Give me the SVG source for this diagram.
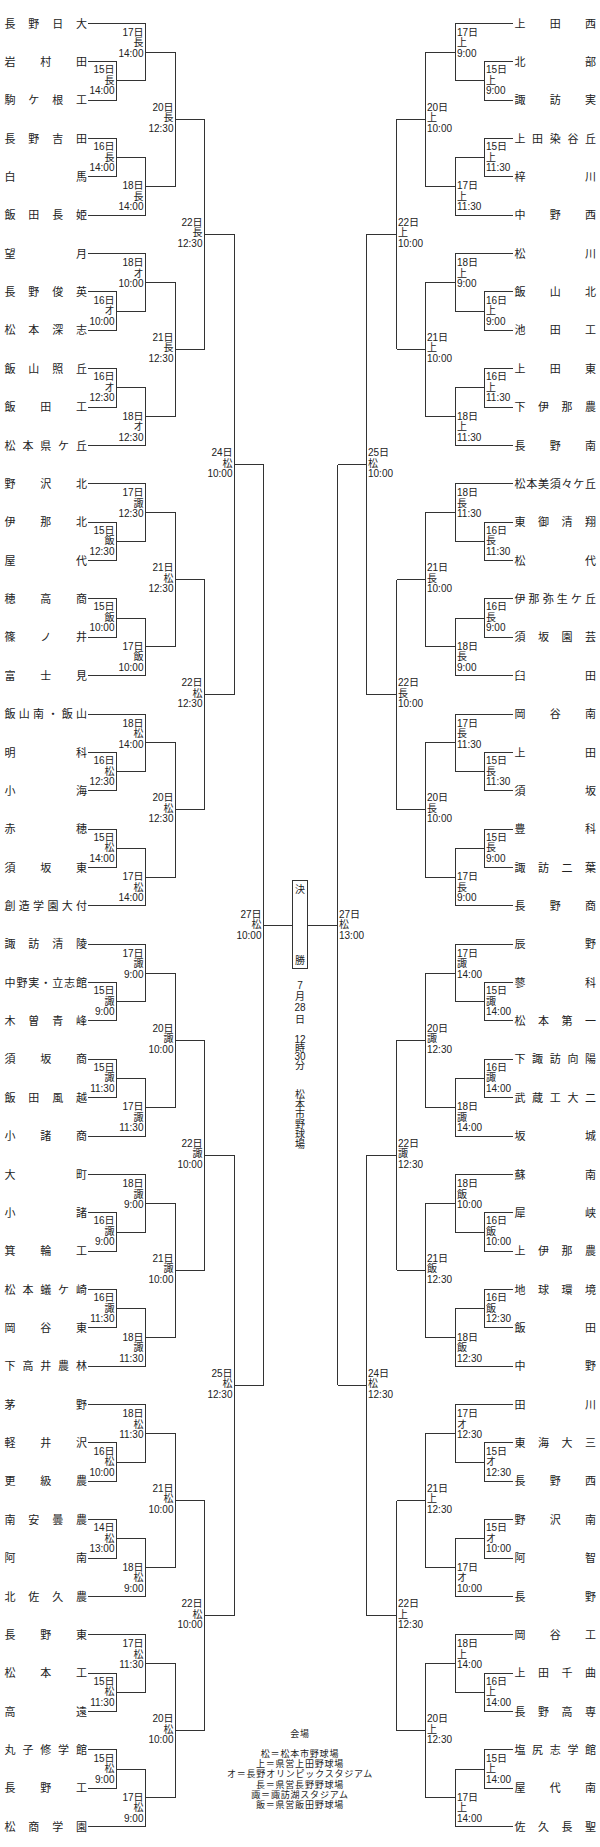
<svg xmlns="http://www.w3.org/2000/svg" width="600" height="1847" viewBox="0 0 600 1847">
<style>
.tn{font-family:"Noto Sans CJK JP",sans-serif;font-size:11px;fill:#222}
.lb{font-family:"Liberation Sans","Noto Sans CJK JP",sans-serif;font-size:10px;fill:#222}
.le{text-anchor:end}
.cn{fill:none;stroke:#333;stroke-width:1}
.ct{font-family:"Liberation Sans","Noto Sans CJK JP",sans-serif;font-size:10px;fill:#222;text-anchor:middle}
.lg{font-family:"Noto Sans CJK JP",sans-serif;font-size:9px;letter-spacing:0.8px;fill:#222;text-anchor:middle}
</style>
<defs>
<path id="bl" d="M88 0H145.5V57.6H116.5M88 38.4H116.5V76.7H88M88 115.1H116.5V153.5H88M116.5 134.3H145.5V191.9H88M145.5 28.8H175.5V163.1H145.5M175.5 95.9H204.5"/>
<path id="br" d="M513 0H455.5V57.6H484.5M513 38.4H484.5V76.7H513M513 115.1H484.5V153.5H513M484.5 134.3H455.5V191.9H513M455.5 28.8H425.5V163.1H455.5M425.5 95.9H396.5"/>
</defs>
<rect width="600" height="1847" fill="#fff"/>
<g id="connectors" class="cn" shape-rendering="crispEdges">
<use href="#bl" y="23.3"/><use href="#bl" y="253.5"/><use href="#bl" y="483.7"/><use href="#bl" y="714"/>
<use href="#bl" y="944.2"/><use href="#bl" y="1174.4"/><use href="#bl" y="1404.6"/><use href="#bl" y="1634.8"/>
<use href="#br" y="23.3"/><use href="#br" y="253.5"/><use href="#br" y="483.7"/><use href="#br" y="714"/>
<use href="#br" y="944.2"/><use href="#br" y="1174.4"/><use href="#br" y="1404.6"/><use href="#br" y="1634.8"/>
<path d="M204.5 119.2V349.4M204.5 234.3H234.5M204.5 579.6V809.9M204.5 694.75H234.5M204.5 1040.1V1270.3M204.5 1155.2H234.5M204.5 1500.5V1730.7M204.5 1615.6H234.5M234.5 234.3V694.75M234.5 464.5H263.5M234.5 1155.2V1615.6M234.5 1385.4H263.5M263.5 464.5V1385.4M263.5 925H292.5"/>
<path d="M396.5 119.2V349.4M396.5 234.3H366.5M396.5 579.6V809.9M396.5 694.75H366.5M396.5 1040.1V1270.3M396.5 1155.2H366.5M396.5 1500.5V1730.7M396.5 1615.6H366.5M366.5 234.3V694.75M366.5 464.5H337.5M366.5 1155.2V1615.6M366.5 1385.4H337.5M337.5 464.5V1385.4M337.5 925H307.5"/>
</g>

<!-- LEFT group 0 -->
<g transform="translate(0,23.3)">
<g id="L01"><text class="tn" x="4.5 28.3 52.2 76" y="4.2">長野日大</text></g>
<g id="L02"><text class="tn" x="4.5 40.3 76" y="42.6">岩村田</text></g>
<g id="L03"><text class="tn" x="4.5 28.3 52.2 76" y="80.9">駒ケ根工</text></g>
<g id="L04"><text class="tn" x="4.5 28.3 52.2 76" y="119.3">長野吉田</text></g>
<g id="L05"><text class="tn" x="4.5 76" y="157.7">白馬</text></g>
<g id="L06"><text class="tn" x="4.5 28.3 52.2 76" y="196.1">飯田長姫</text></g>
<g id="mL0" class="lb le">
<text x="114.5" y="50.1">15日<tspan x="114.5" dy="10.5">長</tspan><tspan x="114.5" dy="10.5">14:00</tspan></text>
<text x="143.5" y="12.7">17日<tspan x="143.5" dy="10.5">長</tspan><tspan x="143.5" dy="10.5">14:00</tspan></text>
<text x="114.5" y="126.8">16日<tspan x="114.5" dy="10.5">長</tspan><tspan x="114.5" dy="10.5">14:00</tspan></text>
<text x="143.5" y="166.2">18日<tspan x="143.5" dy="10.5">長</tspan><tspan x="143.5" dy="10.5">14:00</tspan></text>
<text x="173.5" y="87.4">20日<tspan x="173.5" dy="10.5">長</tspan><tspan x="173.5" dy="10.5">12:30</tspan></text>
</g>
</g>

<!-- LEFT group 1 -->
<g transform="translate(0,253.5)">
<g id="L07"><text class="tn" x="4.5 76" y="4.2">望月</text></g>
<g id="L08"><text class="tn" x="4.5 28.3 52.2 76" y="42.6">長野俊英</text></g>
<g id="L09"><text class="tn" x="4.5 28.3 52.2 76" y="80.9">松本深志</text></g>
<g id="L10"><text class="tn" x="4.5 28.3 52.2 76" y="119.3">飯山照丘</text></g>
<g id="L11"><text class="tn" x="4.5 40.3 76" y="157.7">飯田工</text></g>
<g id="L12"><text class="tn" x="4.5 22.4 40.3 58.1 76" y="196.1">松本県ケ丘</text></g>
<g id="mL1" class="lb le">
<text x="114.5" y="50.1">16日<tspan x="114.5" dy="10.5">オ</tspan><tspan x="114.5" dy="10.5">10:00</tspan></text>
<text x="143.5" y="12.7">18日<tspan x="143.5" dy="10.5">オ</tspan><tspan x="143.5" dy="10.5">10:00</tspan></text>
<text x="114.5" y="126.8">16日<tspan x="114.5" dy="10.5">オ</tspan><tspan x="114.5" dy="10.5">12:30</tspan></text>
<text x="143.5" y="166.2">18日<tspan x="143.5" dy="10.5">オ</tspan><tspan x="143.5" dy="10.5">12:30</tspan></text>
<text x="173.5" y="87.4">21日<tspan x="173.5" dy="10.5">長</tspan><tspan x="173.5" dy="10.5">12:30</tspan></text>
</g>
</g>

<!-- LEFT group 2 -->
<g transform="translate(0,483.7)">
<g id="L13"><text class="tn" x="4.5 40.3 76" y="4.2">野沢北</text></g>
<g id="L14"><text class="tn" x="4.5 40.3 76" y="42.6">伊那北</text></g>
<g id="L15"><text class="tn" x="4.5 76" y="80.9">屋代</text></g>
<g id="L16"><text class="tn" x="4.5 40.3 76" y="119.3">穂高商</text></g>
<g id="L17"><text class="tn" x="4.5 40.3 76" y="157.7">篠ノ井</text></g>
<g id="L18"><text class="tn" x="4.5 40.3 76" y="196.1">富士見</text></g>
<g id="mL2" class="lb le">
<text x="114.5" y="50.1">15日<tspan x="114.5" dy="10.5">飯</tspan><tspan x="114.5" dy="10.5">12:30</tspan></text>
<text x="143.5" y="12.7">17日<tspan x="143.5" dy="10.5">諏</tspan><tspan x="143.5" dy="10.5">12:30</tspan></text>
<text x="114.5" y="126.8">15日<tspan x="114.5" dy="10.5">飯</tspan><tspan x="114.5" dy="10.5">10:00</tspan></text>
<text x="143.5" y="166.2">17日<tspan x="143.5" dy="10.5">飯</tspan><tspan x="143.5" dy="10.5">10:00</tspan></text>
<text x="173.5" y="87.4">21日<tspan x="173.5" dy="10.5">松</tspan><tspan x="173.5" dy="10.5">12:30</tspan></text>
</g>
</g>

<!-- LEFT group 3 -->
<g transform="translate(0,714)">
<g id="L19"><text class="tn" x="4.5 18.8 33.1 47.4 61.7 76" y="4.2">飯山南・飯山</text></g>
<g id="L20"><text class="tn" x="4.5 76" y="42.6">明科</text></g>
<g id="L21"><text class="tn" x="4.5 76" y="80.9">小海</text></g>
<g id="L22"><text class="tn" x="4.5 76" y="119.3">赤穂</text></g>
<g id="L23"><text class="tn" x="4.5 40.3 76" y="157.7">須坂東</text></g>
<g id="L24"><text class="tn" x="4.5 18.8 33.1 47.4 61.7 76" y="196.1">創造学園大付</text></g>
<g id="mL3" class="lb le">
<text x="114.5" y="50.1">16日<tspan x="114.5" dy="10.5">松</tspan><tspan x="114.5" dy="10.5">12:30</tspan></text>
<text x="143.5" y="12.7">18日<tspan x="143.5" dy="10.5">松</tspan><tspan x="143.5" dy="10.5">14:00</tspan></text>
<text x="114.5" y="126.8">15日<tspan x="114.5" dy="10.5">松</tspan><tspan x="114.5" dy="10.5">14:00</tspan></text>
<text x="143.5" y="166.2">17日<tspan x="143.5" dy="10.5">松</tspan><tspan x="143.5" dy="10.5">14:00</tspan></text>
<text x="173.5" y="87.4">20日<tspan x="173.5" dy="10.5">松</tspan><tspan x="173.5" dy="10.5">12:30</tspan></text>
</g>
</g>

<!-- LEFT group 4 -->
<g transform="translate(0,944.2)">
<g id="L25"><text class="tn" x="4.5 28.3 52.2 76" y="4.2">諏訪清陵</text></g>
<g id="L26"><text class="tn" x="4.5 16.4 28.3 40.3 52.2 64.1 76" y="42.6">中野実・立志館</text></g>
<g id="L27"><text class="tn" x="4.5 28.3 52.2 76" y="80.9">木曽青峰</text></g>
<g id="L28"><text class="tn" x="4.5 40.3 76" y="119.3">須坂商</text></g>
<g id="L29"><text class="tn" x="4.5 28.3 52.2 76" y="157.7">飯田風越</text></g>
<g id="L30"><text class="tn" x="4.5 40.3 76" y="196.1">小諸商</text></g>
<g id="mL4" class="lb le">
<text x="114.5" y="50.1">15日<tspan x="114.5" dy="10.5">諏</tspan><tspan x="114.5" dy="10.5">9:00</tspan></text>
<text x="143.5" y="12.7">17日<tspan x="143.5" dy="10.5">諏</tspan><tspan x="143.5" dy="10.5">9:00</tspan></text>
<text x="114.5" y="126.8">15日<tspan x="114.5" dy="10.5">諏</tspan><tspan x="114.5" dy="10.5">11:30</tspan></text>
<text x="143.5" y="166.2">17日<tspan x="143.5" dy="10.5">諏</tspan><tspan x="143.5" dy="10.5">11:30</tspan></text>
<text x="173.5" y="87.4">20日<tspan x="173.5" dy="10.5">諏</tspan><tspan x="173.5" dy="10.5">10:00</tspan></text>
</g>
</g>

<!-- LEFT group 5 -->
<g transform="translate(0,1174.4)">
<g id="L31"><text class="tn" x="4.5 76" y="4.2">大町</text></g>
<g id="L32"><text class="tn" x="4.5 76" y="42.6">小諸</text></g>
<g id="L33"><text class="tn" x="4.5 40.3 76" y="80.9">箕輪工</text></g>
<g id="L34"><text class="tn" x="4.5 22.4 40.3 58.1 76" y="119.3">松本蟻ケ崎</text></g>
<g id="L35"><text class="tn" x="4.5 40.3 76" y="157.7">岡谷東</text></g>
<g id="L36"><text class="tn" x="4.5 22.4 40.3 58.1 76" y="196.1">下高井農林</text></g>
<g id="mL5" class="lb le">
<text x="114.5" y="50.1">16日<tspan x="114.5" dy="10.5">諏</tspan><tspan x="114.5" dy="10.5">9:00</tspan></text>
<text x="143.5" y="12.7">18日<tspan x="143.5" dy="10.5">諏</tspan><tspan x="143.5" dy="10.5">9:00</tspan></text>
<text x="114.5" y="126.8">16日<tspan x="114.5" dy="10.5">諏</tspan><tspan x="114.5" dy="10.5">11:30</tspan></text>
<text x="143.5" y="166.2">18日<tspan x="143.5" dy="10.5">諏</tspan><tspan x="143.5" dy="10.5">11:30</tspan></text>
<text x="173.5" y="87.4">21日<tspan x="173.5" dy="10.5">諏</tspan><tspan x="173.5" dy="10.5">10:00</tspan></text>
</g>
</g>

<!-- LEFT group 6 -->
<g transform="translate(0,1404.6)">
<g id="L37"><text class="tn" x="4.5 76" y="4.2">茅野</text></g>
<g id="L38"><text class="tn" x="4.5 40.3 76" y="42.6">軽井沢</text></g>
<g id="L39"><text class="tn" x="4.5 40.3 76" y="80.9">更級農</text></g>
<g id="L40"><text class="tn" x="4.5 28.3 52.2 76" y="119.3">南安曇農</text></g>
<g id="L41"><text class="tn" x="4.5 76" y="157.7">阿南</text></g>
<g id="L42"><text class="tn" x="4.5 28.3 52.2 76" y="196.1">北佐久農</text></g>
<g id="mL6" class="lb le">
<text x="114.5" y="50.1">16日<tspan x="114.5" dy="10.5">松</tspan><tspan x="114.5" dy="10.5">10:00</tspan></text>
<text x="143.5" y="12.7">18日<tspan x="143.5" dy="10.5">松</tspan><tspan x="143.5" dy="10.5">11:30</tspan></text>
<text x="114.5" y="126.8">14日<tspan x="114.5" dy="10.5">松</tspan><tspan x="114.5" dy="10.5">13:00</tspan></text>
<text x="143.5" y="166.2">18日<tspan x="143.5" dy="10.5">松</tspan><tspan x="143.5" dy="10.5">9:00</tspan></text>
<text x="173.5" y="87.4">21日<tspan x="173.5" dy="10.5">松</tspan><tspan x="173.5" dy="10.5">10:00</tspan></text>
</g>
</g>

<!-- LEFT group 7 -->
<g transform="translate(0,1634.8)">
<g id="L43"><text class="tn" x="4.5 40.3 76" y="4.2">長野東</text></g>
<g id="L44"><text class="tn" x="4.5 40.3 76" y="42.6">松本工</text></g>
<g id="L45"><text class="tn" x="4.5 76" y="80.9">高遠</text></g>
<g id="L46"><text class="tn" x="4.5 22.4 40.3 58.1 76" y="119.3">丸子修学館</text></g>
<g id="L47"><text class="tn" x="4.5 40.3 76" y="157.7">長野工</text></g>
<g id="L48"><text class="tn" x="4.5 28.3 52.2 76" y="196.1">松商学園</text></g>
<g id="mL7" class="lb le">
<text x="114.5" y="50.1">15日<tspan x="114.5" dy="10.5">松</tspan><tspan x="114.5" dy="10.5">11:30</tspan></text>
<text x="143.5" y="12.7">17日<tspan x="143.5" dy="10.5">松</tspan><tspan x="143.5" dy="10.5">11:30</tspan></text>
<text x="114.5" y="126.8">15日<tspan x="114.5" dy="10.5">松</tspan><tspan x="114.5" dy="10.5">9:00</tspan></text>
<text x="143.5" y="166.2">17日<tspan x="143.5" dy="10.5">松</tspan><tspan x="143.5" dy="10.5">9:00</tspan></text>
<text x="173.5" y="87.4">20日<tspan x="173.5" dy="10.5">松</tspan><tspan x="173.5" dy="10.5">10:00</tspan></text>
</g>
</g>

<!-- LEFT upper rounds -->
<g id="mLup" class="lb le">
<text x="202.5" y="225.8">22日<tspan x="202.5" dy="10.5">長</tspan><tspan x="202.5" dy="10.5">12:30</tspan></text>
<text x="202.5" y="686.2">22日<tspan x="202.5" dy="10.5">松</tspan><tspan x="202.5" dy="10.5">12:30</tspan></text>
<text x="202.5" y="1146.7">22日<tspan x="202.5" dy="10.5">諏</tspan><tspan x="202.5" dy="10.5">10:00</tspan></text>
<text x="202.5" y="1607.1">22日<tspan x="202.5" dy="10.5">松</tspan><tspan x="202.5" dy="10.5">10:00</tspan></text>
<text x="232.5" y="456">24日<tspan x="232.5" dy="10.5">松</tspan><tspan x="232.5" dy="10.5">10:00</tspan></text>
<text x="232.5" y="1376.9">25日<tspan x="232.5" dy="10.5">松</tspan><tspan x="232.5" dy="10.5">12:30</tspan></text>
<text x="261.5" y="917.5">27日<tspan x="261.5" dy="10.5">松</tspan><tspan x="261.5" dy="10.5">10:00</tspan></text>
</g>

<!-- RIGHT group 0 -->
<g transform="translate(0,23.3)">
<g id="R01"><text class="tn" x="514.5 549.8 585" y="4.2">上田西</text></g>
<g id="R02"><text class="tn" x="514.5 585" y="42.6">北部</text></g>
<g id="R03"><text class="tn" x="514.5 549.8 585" y="80.9">諏訪実</text></g>
<g id="R04"><text class="tn" x="514.5 532.1 549.8 567.4 585" y="119.3">上田染谷丘</text></g>
<g id="R05"><text class="tn" x="514.5 585" y="157.7">梓川</text></g>
<g id="R06"><text class="tn" x="514.5 549.8 585" y="196.1">中野西</text></g>
<g id="mR0" class="lb">
<text x="486" y="50.1">15日<tspan x="486" dy="10.5">上</tspan><tspan x="486" dy="10.5">9:00</tspan></text>
<text x="457" y="12.7">17日<tspan x="457" dy="10.5">上</tspan><tspan x="457" dy="10.5">9:00</tspan></text>
<text x="486" y="126.8">15日<tspan x="486" dy="10.5">上</tspan><tspan x="486" dy="10.5">11:30</tspan></text>
<text x="457" y="166.2">17日<tspan x="457" dy="10.5">上</tspan><tspan x="457" dy="10.5">11:30</tspan></text>
<text x="427" y="87.4">20日<tspan x="427" dy="10.5">上</tspan><tspan x="427" dy="10.5">10:00</tspan></text>
</g>
</g>

<!-- RIGHT group 1 -->
<g transform="translate(0,253.5)">
<g id="R07"><text class="tn" x="514.5 585" y="4.2">松川</text></g>
<g id="R08"><text class="tn" x="514.5 549.8 585" y="42.6">飯山北</text></g>
<g id="R09"><text class="tn" x="514.5 549.8 585" y="80.9">池田工</text></g>
<g id="R10"><text class="tn" x="514.5 549.8 585" y="119.3">上田東</text></g>
<g id="R11"><text class="tn" x="514.5 538 561.5 585" y="157.7">下伊那農</text></g>
<g id="R12"><text class="tn" x="514.5 549.8 585" y="196.1">長野南</text></g>
<g id="mR1" class="lb">
<text x="486" y="50.1">16日<tspan x="486" dy="10.5">上</tspan><tspan x="486" dy="10.5">9:00</tspan></text>
<text x="457" y="12.7">18日<tspan x="457" dy="10.5">上</tspan><tspan x="457" dy="10.5">9:00</tspan></text>
<text x="486" y="126.8">16日<tspan x="486" dy="10.5">上</tspan><tspan x="486" dy="10.5">11:30</tspan></text>
<text x="457" y="166.2">18日<tspan x="457" dy="10.5">上</tspan><tspan x="457" dy="10.5">11:30</tspan></text>
<text x="427" y="87.4">21日<tspan x="427" dy="10.5">上</tspan><tspan x="427" dy="10.5">10:00</tspan></text>
</g>
</g>

<!-- RIGHT group 2 -->
<g transform="translate(0,483.7)">
<g id="R13"><text class="tn" x="514.5 526.3 538 549.8 561.5 573.3 585" y="4.2">松本美須々ケ丘</text></g>
<g id="R14"><text class="tn" x="514.5 538 561.5 585" y="42.6">東御清翔</text></g>
<g id="R15"><text class="tn" x="514.5 585" y="80.9">松代</text></g>
<g id="R16"><text class="tn" x="514.5 528.6 542.7 556.8 570.9 585" y="119.3">伊那弥生ケ丘</text></g>
<g id="R17"><text class="tn" x="514.5 538 561.5 585" y="157.7">須坂園芸</text></g>
<g id="R18"><text class="tn" x="514.5 585" y="196.1">臼田</text></g>
<g id="mR2" class="lb">
<text x="486" y="50.1">16日<tspan x="486" dy="10.5">長</tspan><tspan x="486" dy="10.5">11:30</tspan></text>
<text x="457" y="12.7">18日<tspan x="457" dy="10.5">長</tspan><tspan x="457" dy="10.5">11:30</tspan></text>
<text x="486" y="126.8">16日<tspan x="486" dy="10.5">長</tspan><tspan x="486" dy="10.5">9:00</tspan></text>
<text x="457" y="166.2">18日<tspan x="457" dy="10.5">長</tspan><tspan x="457" dy="10.5">9:00</tspan></text>
<text x="427" y="87.4">21日<tspan x="427" dy="10.5">長</tspan><tspan x="427" dy="10.5">10:00</tspan></text>
</g>
</g>

<!-- RIGHT group 3 -->
<g transform="translate(0,714)">
<g id="R19"><text class="tn" x="514.5 549.8 585" y="4.2">岡谷南</text></g>
<g id="R20"><text class="tn" x="514.5 585" y="42.6">上田</text></g>
<g id="R21"><text class="tn" x="514.5 585" y="80.9">須坂</text></g>
<g id="R22"><text class="tn" x="514.5 585" y="119.3">豊科</text></g>
<g id="R23"><text class="tn" x="514.5 538 561.5 585" y="157.7">諏訪二葉</text></g>
<g id="R24"><text class="tn" x="514.5 549.8 585" y="196.1">長野商</text></g>
<g id="mR3" class="lb">
<text x="486" y="50.1">15日<tspan x="486" dy="10.5">長</tspan><tspan x="486" dy="10.5">11:30</tspan></text>
<text x="457" y="12.7">17日<tspan x="457" dy="10.5">長</tspan><tspan x="457" dy="10.5">11:30</tspan></text>
<text x="486" y="126.8">15日<tspan x="486" dy="10.5">長</tspan><tspan x="486" dy="10.5">9:00</tspan></text>
<text x="457" y="166.2">17日<tspan x="457" dy="10.5">長</tspan><tspan x="457" dy="10.5">9:00</tspan></text>
<text x="427" y="87.4">20日<tspan x="427" dy="10.5">長</tspan><tspan x="427" dy="10.5">10:00</tspan></text>
</g>
</g>

<!-- RIGHT group 4 -->
<g transform="translate(0,944.2)">
<g id="R25"><text class="tn" x="514.5 585" y="4.2">辰野</text></g>
<g id="R26"><text class="tn" x="514.5 585" y="42.6">蓼科</text></g>
<g id="R27"><text class="tn" x="514.5 538 561.5 585" y="80.9">松本第一</text></g>
<g id="R28"><text class="tn" x="514.5 532.1 549.8 567.4 585" y="119.3">下諏訪向陽</text></g>
<g id="R29"><text class="tn" x="514.5 532.1 549.8 567.4 585" y="157.7">武蔵工大二</text></g>
<g id="R30"><text class="tn" x="514.5 585" y="196.1">坂城</text></g>
<g id="mR4" class="lb">
<text x="486" y="50.1">15日<tspan x="486" dy="10.5">諏</tspan><tspan x="486" dy="10.5">14:00</tspan></text>
<text x="457" y="12.7">17日<tspan x="457" dy="10.5">諏</tspan><tspan x="457" dy="10.5">14:00</tspan></text>
<text x="486" y="126.8">16日<tspan x="486" dy="10.5">諏</tspan><tspan x="486" dy="10.5">14:00</tspan></text>
<text x="457" y="166.2">18日<tspan x="457" dy="10.5">諏</tspan><tspan x="457" dy="10.5">14:00</tspan></text>
<text x="427" y="87.4">20日<tspan x="427" dy="10.5">諏</tspan><tspan x="427" dy="10.5">12:30</tspan></text>
</g>
</g>

<!-- RIGHT group 5 -->
<g transform="translate(0,1174.4)">
<g id="R31"><text class="tn" x="514.5 585" y="4.2">蘇南</text></g>
<g id="R32"><text class="tn" x="514.5 585" y="42.6">犀峡</text></g>
<g id="R33"><text class="tn" x="514.5 538 561.5 585" y="80.9">上伊那農</text></g>
<g id="R34"><text class="tn" x="514.5 538 561.5 585" y="119.3">地球環境</text></g>
<g id="R35"><text class="tn" x="514.5 585" y="157.7">飯田</text></g>
<g id="R36"><text class="tn" x="514.5 585" y="196.1">中野</text></g>
<g id="mR5" class="lb">
<text x="486" y="50.1">16日<tspan x="486" dy="10.5">飯</tspan><tspan x="486" dy="10.5">10:00</tspan></text>
<text x="457" y="12.7">18日<tspan x="457" dy="10.5">飯</tspan><tspan x="457" dy="10.5">10:00</tspan></text>
<text x="486" y="126.8">16日<tspan x="486" dy="10.5">飯</tspan><tspan x="486" dy="10.5">12:30</tspan></text>
<text x="457" y="166.2">18日<tspan x="457" dy="10.5">飯</tspan><tspan x="457" dy="10.5">12:30</tspan></text>
<text x="427" y="87.4">21日<tspan x="427" dy="10.5">飯</tspan><tspan x="427" dy="10.5">12:30</tspan></text>
</g>
</g>

<!-- RIGHT group 6 -->
<g transform="translate(0,1404.6)">
<g id="R37"><text class="tn" x="514.5 585" y="4.2">田川</text></g>
<g id="R38"><text class="tn" x="514.5 538 561.5 585" y="42.6">東海大三</text></g>
<g id="R39"><text class="tn" x="514.5 549.8 585" y="80.9">長野西</text></g>
<g id="R40"><text class="tn" x="514.5 549.8 585" y="119.3">野沢南</text></g>
<g id="R41"><text class="tn" x="514.5 585" y="157.7">阿智</text></g>
<g id="R42"><text class="tn" x="514.5 585" y="196.1">長野</text></g>
<g id="mR6" class="lb">
<text x="486" y="50.1">15日<tspan x="486" dy="10.5">オ</tspan><tspan x="486" dy="10.5">12:30</tspan></text>
<text x="457" y="12.7">17日<tspan x="457" dy="10.5">オ</tspan><tspan x="457" dy="10.5">12:30</tspan></text>
<text x="486" y="126.8">15日<tspan x="486" dy="10.5">オ</tspan><tspan x="486" dy="10.5">10:00</tspan></text>
<text x="457" y="166.2">17日<tspan x="457" dy="10.5">オ</tspan><tspan x="457" dy="10.5">10:00</tspan></text>
<text x="427" y="87.4">21日<tspan x="427" dy="10.5">上</tspan><tspan x="427" dy="10.5">12:30</tspan></text>
</g>
</g>

<!-- RIGHT group 7 -->
<g transform="translate(0,1634.8)">
<g id="R43"><text class="tn" x="514.5 549.8 585" y="4.2">岡谷工</text></g>
<g id="R44"><text class="tn" x="514.5 538 561.5 585" y="42.6">上田千曲</text></g>
<g id="R45"><text class="tn" x="514.5 538 561.5 585" y="80.9">長野高専</text></g>
<g id="R46"><text class="tn" x="514.5 532.1 549.8 567.4 585" y="119.3">塩尻志学館</text></g>
<g id="R47"><text class="tn" x="514.5 549.8 585" y="157.7">屋代南</text></g>
<g id="R48"><text class="tn" x="514.5 538 561.5 585" y="196.1">佐久長聖</text></g>
<g id="mR7" class="lb">
<text x="486" y="50.1">16日<tspan x="486" dy="10.5">上</tspan><tspan x="486" dy="10.5">14:00</tspan></text>
<text x="457" y="12.7">18日<tspan x="457" dy="10.5">上</tspan><tspan x="457" dy="10.5">14:00</tspan></text>
<text x="486" y="126.8">15日<tspan x="486" dy="10.5">上</tspan><tspan x="486" dy="10.5">14:00</tspan></text>
<text x="457" y="166.2">17日<tspan x="457" dy="10.5">上</tspan><tspan x="457" dy="10.5">14:00</tspan></text>
<text x="427" y="87.4">20日<tspan x="427" dy="10.5">上</tspan><tspan x="427" dy="10.5">12:30</tspan></text>
</g>
</g>

<!-- RIGHT upper rounds -->
<g id="mRup" class="lb">
<text x="398" y="225.8">22日<tspan x="398" dy="10.5">上</tspan><tspan x="398" dy="10.5">10:00</tspan></text>
<text x="398" y="686.2">22日<tspan x="398" dy="10.5">長</tspan><tspan x="398" dy="10.5">10:00</tspan></text>
<text x="398" y="1146.7">22日<tspan x="398" dy="10.5">諏</tspan><tspan x="398" dy="10.5">12:30</tspan></text>
<text x="398" y="1607.1">22日<tspan x="398" dy="10.5">上</tspan><tspan x="398" dy="10.5">12:30</tspan></text>
<text x="368" y="456">25日<tspan x="368" dy="10.5">松</tspan><tspan x="368" dy="10.5">10:00</tspan></text>
<text x="368" y="1376.9">24日<tspan x="368" dy="10.5">松</tspan><tspan x="368" dy="10.5">12:30</tspan></text>
<text x="339" y="917.5">27日<tspan x="339" dy="10.5">松</tspan><tspan x="339" dy="10.5">13:00</tspan></text>
</g>

<!-- Final box -->
<g id="final">
<rect x="292.5" y="880.5" width="15" height="87.5" fill="#fff" stroke="#333" stroke-width="1" shape-rendering="crispEdges"/>
<text class="ct" x="300" y="893">決</text>
<text class="ct" x="300" y="964">勝</text>
</g>
<g id="finalinfo" class="ct">
<text x="300" y="989">7</text>
<text x="300" y="1000">月</text>
<text x="300" y="1011">28</text>
<text x="300" y="1023">日</text>
<text x="300" y="1043">12</text>
<text x="300" y="1051.5">時</text>
<text x="300" y="1060">30</text>
<text x="300" y="1068.5">分</text>
<text x="300" y="1098">松</text>
<text x="300" y="1108">本</text>
<text x="300" y="1118">市</text>
<text x="300" y="1128">野</text>
<text x="300" y="1138">球</text>
<text x="300" y="1148">場</text>
</g>
<g id="legend" class="lg">
<text x="300" y="1737">会場</text>
<text x="300" y="1757">松＝松本市野球場</text>
<text x="300" y="1767.2">上＝県営上田野球場</text>
<text x="300" y="1777.4">オ＝長野オリンピックスタジアム</text>
<text x="300" y="1787.6">長＝県営長野野球場</text>
<text x="300" y="1797.8">諏＝諏訪湖スタジアム</text>
<text x="300" y="1808">飯＝県営飯田野球場</text>
</g>
</svg>
